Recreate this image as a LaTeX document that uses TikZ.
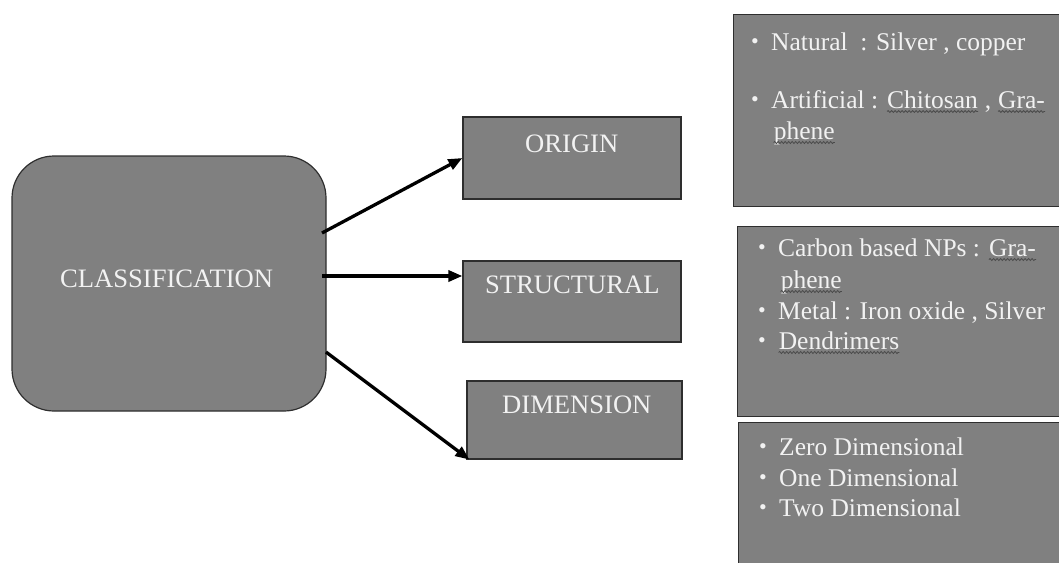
\documentclass[tikz,border=0pt]{standalone}
\usepackage{fontspec}
\setmainfont{Liberation Serif}
\usetikzlibrary{arrows.meta,calc,decorations.pathmorphing}
\definecolor{boxfill}{HTML}{808080}
\definecolor{boxline}{HTML}{2E2E2E}
\definecolor{txt}{HTML}{F2F2F2}
\definecolor{sqcol}{HTML}{4A4A4A}
\newcommand{\sqw}[1]{\tikz[baseline=(w.base)]{\node[inner sep=0pt,anchor=base west] (w) at (0,0) {#1};
  \draw[sqcol,line width=0.8pt,decorate,decoration={snake,amplitude=1pt,segment length=3.5pt}] ([yshift=-3.5pt]w.base west) -- ([yshift=-3.5pt]w.base east);}}
\newcommand{\bul}{\makebox[20pt][l]{\raisebox{2pt}{\fontsize{22}{22}\selectfont\textbullet}}}
\begin{document}
\begin{tikzpicture}[x=1pt,y=-1pt,
  box/.style={draw=boxline,line width=1.2pt,fill=boxfill},
  head/.style={text=txt,font=\fontsize{26.6}{30}\selectfont,anchor=base west,inner sep=0pt},
  item/.style={text=txt,font=\fontsize{25.5}{30}\selectfont,anchor=base west,inner sep=0pt},
  arr/.style={line width=3.3pt,-{Triangle[length=14pt,width=11pt]}}]
\useasboundingbox (0,0) rectangle (1059,562);
% classification
\draw[box,rounded corners=42pt] (12,156) rectangle (326,411);
\node[inner sep=0pt,minimum width=314pt,minimum height=255pt] (cls) at (169,283.5) {};
\node[head] (clst) at (60,287) {CLASSIFICATION};
% middle boxes
\node[box,inner sep=0pt,minimum width=218pt,minimum height=82pt] (origin) at (572,158) {};
\node[head] (origint) at (525,152) {ORIGIN};
\node[box,inner sep=0pt,minimum width=218pt,minimum height=81pt] (structural) at (572,301.5) {};
\node[head] (structt) at (485,293) {STRUCTURAL};
\node[box,inner sep=0pt,minimum width=215pt,minimum height=78pt] (dimension) at (574.5,420) {};
\node[head] (dimt) at (502,413) {DIMENSION};
% arrows
\coordinate (s1) at (322,233);
\coordinate (s2) at (322,276);
\coordinate (s3) at (326,352);
\draw[arr] (s1) -- (origin.west);
\draw[arr] (s2) -- (structural.west |- s2);
\draw[arr] (s3) -- ($(dimension.south west)+(3,0)$);
% right boxes
\node[box,inner sep=0pt,minimum width=330pt,minimum height=192pt,anchor=north west] (rb1) at (733,14) {};
\node[box,inner sep=0pt,minimum width=327pt,minimum height=190pt,anchor=north west] (rb2) at (737,226) {};
\node[box,inner sep=0pt,minimum width=326pt,minimum height=150pt,anchor=north west] (rb3) at (738,422) {};
% box 1 text
\node[item] (r1a) at (751,50) {\bul Natural\ \ : Silver , copper};
\node[item] (r1b) at (751,108) {\bul Artificial : \sqw{Chitosan} , \sqw{Gra-}};
\node[item] (r1c) at (773,139) {\sqw{phene}};
% box 2 text
\node[item] (r2a) at (758,256) {\bul Carbon based NPs : \sqw{Gra-}};
\node[item] (r2b) at (780,288) {\sqw{phene}};
\node[item] (r2c) at (758,319) {\bul Metal : Iron oxide , Silver};
\node[item] (r2d) at (758,349) {\bul \sqw{Dendrimers}};
% box 3 text
\node[item] (r3a) at (759,455) {\bul Zero Dimensional};
\node[item] (r3b) at (759,486) {\bul One Dimensional};
\node[item] (r3c) at (759,516) {\bul Two Dimensional};
\end{tikzpicture}
\end{document}
